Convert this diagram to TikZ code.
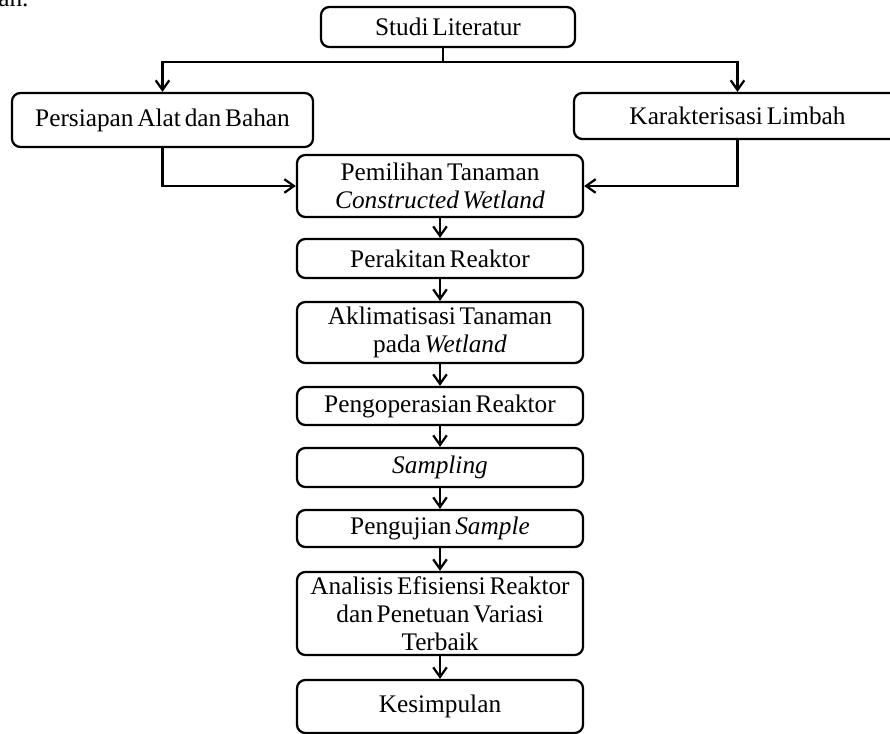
\documentclass[tikz,border=0pt]{standalone}
\usepackage{fontspec}
\setmainfont{Liberation Serif}[WordSpace=0.6]
\usetikzlibrary{arrows.meta, positioning, calc}

\begin{document}
\begin{tikzpicture}[x=0.025cm, y=-0.025cm,
  font=\fontsize{18}{20}\selectfont,
  s/.style={draw, line width=1.6pt, rounded corners=6pt, fill=white, align=center,
            inner sep=0pt, minimum width=7.15cm},
  a/.style={-{Straight Barb[length=2.4mm, width=3.4mm]}, line width=1.6pt, draw=black}]
  \useasboundingbox (0,0) rectangle (890,734);
  \node[anchor=base west, inner sep=0pt] (frag) at (-2,7) {an.};
  \node[s, minimum width=6.35cm, minimum height=1.0cm] (studi) at (448,27) {Studi Literatur};
  \node[s, minimum width=7.525cm, minimum height=1.35cm] (alat) at (162.5,120) {Persiapan Alat dan Bahan};
  \node[s, minimum width=8.175cm, minimum height=1.15cm] (limbah) at (737.5,116) {Karakterisasi Limbah};
  \node[s, minimum height=1.55cm] (pilih) at (440,186) {Pemilihan Tanaman \\ \textit{Constructed Wetland}};
  \node[s, minimum height=0.975cm] (rakit) at (440,258.5) {Perakitan Reaktor};
  \node[s, minimum height=1.525cm] (aklim) at (440,332.5) {Aklimatisasi Tanaman \\ pada \textit{Wetland}};
  \node[s, minimum height=0.95cm] (operasi) at (440,406) {Pengoperasian Reaktor};
  \node[s, minimum height=0.975cm] (sampling) at (440,467.5) {\textit{Sampling}};
  \node[s, minimum height=0.925cm] (uji) at (440,528.5) {Pengujian \textit{Sample}};
  \node[s, minimum height=2.075cm] (analisis) at (440,613.5) {Analisis Efisiensi Reaktor \\ dan Penetuan Variasi \\ Terbaik};
  \node[s, minimum height=1.325cm] (simpul) at (440,706.5) {Kesimpulan};
  \coordinate (cabang) at (443,62);
  \draw[line width=1.6pt] (cabang |- studi.south) -- (cabang);
  \draw[a] (cabang) -| (alat.north);
  \draw[a] (cabang) -| (limbah.north);
  \draw[a] (alat.south) |- (pilih.west);
  \draw[a] (limbah.south) |- (pilih.east);
  \foreach \u/\v in {pilih/rakit, rakit/aklim, aklim/operasi, operasi/sampling, sampling/uji, uji/analisis, analisis/simpul}
    \draw[a] (\u.south) -- (\v.north);
\end{tikzpicture}
\end{document}
